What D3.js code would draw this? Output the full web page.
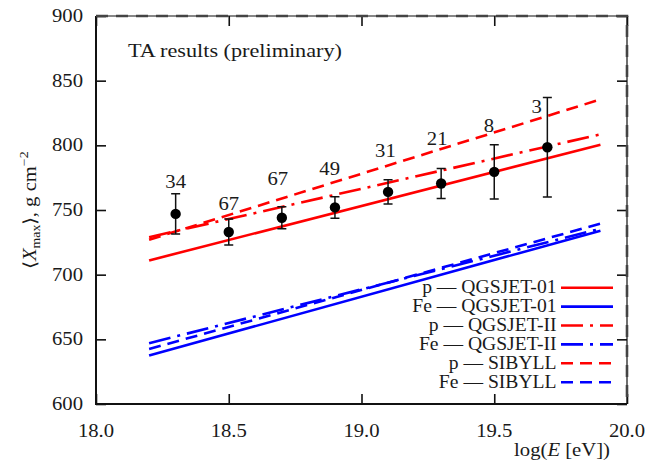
<!DOCTYPE html>
<html>
<head>
<meta charset="utf-8">
<script src="https://cdn.jsdelivr.net/npm/d3@7"></script>
<style>
  body { margin: 0; background: #fff; }
  svg text { fill: #1a1a1a; }
</style>
</head>
<body>
<div id="chart"></div>
<script>
// data
var energy = [18.3, 18.5, 18.7, 18.9, 19.1, 19.3, 19.5, 19.7];
var xmax   = [747, 733, 744, 752, 764, 770.5, 779.5, 798.5];
var xerr   = [15.5, 10, 8.5, 8.3, 9.4, 11.6, 21, 38.5];
var counts = [34, 67, 67, 49, 31, 21, 8, 3];
var countX = [18.3, 18.5, 18.685, 18.88, 19.09, 19.285, 19.48, 19.66];
var countY = [767, 750, 769, 777, 791, 800, 810, 825];

var modelX  = [18.2, 19.9];
var pQ01    = [711, 800.5];
var feQ01   = [637.5, 734];
var pQII    = [729, 808.5];
var feQII   = [647, 735.5];
var pSIB    = [727, 835.5];
var feSIB   = [642.5, 739.5];

var xTicks = [18.0, 18.5, 19.0, 19.5, 20.0];
var yTicks = [600, 650, 700, 750, 800, 850, 900];

var models = [
  {name: "p \u2014 QGSJET-01",  vals: pQ01,  color: "#ff0000", dash: null},
  {name: "Fe \u2014 QGSJET-01", vals: feQ01, color: "#0000ff", dash: null},
  {name: "p \u2014 QGSJET-II",  vals: pQII,  color: "#ff0000", dash: "22,7,3,7"},
  {name: "Fe \u2014 QGSJET-II", vals: feQII, color: "#0000ff", dash: "22,7,3,7"},
  {name: "p \u2014 SIBYLL",     vals: pSIB,  color: "#ff0000", dash: "12,7"},
  {name: "Fe \u2014 SIBYLL",    vals: feSIB, color: "#0000ff", dash: "12,7"}
];

// layout
var W = 661, H = 463;
var m = {top: 16, right: 34, bottom: 59, left: 96};
var w = W - m.left - m.right, h = H - m.top - m.bottom;
var FONT = "'Liberation Serif', 'Times New Roman', serif";

var svg = d3.select("#chart").append("svg")
    .attr("width", W)
    .attr("height", H)
    .style("font-family", FONT);

var g = svg.append("g")
    .attr("transform", "translate(" + m.left + "," + m.top + ")");

var x = d3.scaleLinear().domain([18, 20]).range([0, w]);
var y = d3.scaleLinear().domain([600, 900]).range([h, 0]);

// glyphs in the picture are a little stretched sideways, hence the scale
var label = function (parent, tx, ty, str, anchor, sx, fs) {
  return parent.append("text")
    .attr("transform", "translate(" + tx + "," + ty + ") scale(" + (sx || 1.15) + ",1)")
    .attr("text-anchor", anchor || "middle")
    .style("font-family", FONT)
    .attr("font-size", fs || 18)
    .text(str);
};

// inward ticks on all four sides
var tickStyle = function (sel) {
  sel.select(".domain").remove();
  sel.selectAll("line").attr("stroke", "#111").attr("stroke-width", 1.6);
  sel.selectAll("text").remove();
};
g.append("g").attr("transform", "translate(0," + h + ")")
  .call(d3.axisBottom(x).tickValues(xTicks).tickSize(-10)).call(tickStyle);
g.append("g")
  .call(d3.axisTop(x).tickValues(xTicks).tickSize(-10)).call(tickStyle);
g.append("g")
  .call(d3.axisLeft(y).tickValues(yTicks).tickSize(-10)).call(tickStyle);
g.append("g").attr("transform", "translate(" + w + ",0)")
  .call(d3.axisRight(y).tickValues(yTicks).tickSize(-10)).call(tickStyle);

// frame: left/bottom solid, top/right with the dashed overlay seen in the picture
g.append("path")
  .attr("d", "M0,0V" + h + "H" + w)
  .attr("fill", "none").attr("stroke", "#111").attr("stroke-width", 2);
g.append("path")
  .attr("d", "M0,0H" + w + "V" + h)
  .attr("fill", "none").attr("stroke", "#111").attr("stroke-width", 1.2);
g.append("path")
  .attr("d", "M0,0H" + w + "V" + h)
  .attr("fill", "none").attr("stroke", "#444").attr("stroke-width", 2.6)
  .attr("stroke-dasharray", "12,8");

// tick labels
xTicks.forEach(function (t) {
  label(g, x(t), h + 33, d3.format(".1f")(t));
});
yTicks.forEach(function (t) {
  label(g, -13, y(t) + 6, t, "end");
});

// axis titles
var yl = svg.append("text")
  .attr("transform", "translate(36,210) rotate(-90) scale(1.15,1)")
  .attr("text-anchor", "middle")
  .style("font-family", FONT)
  .attr("font-size", 18);
yl.append("tspan").text("\u27E8");
yl.append("tspan").attr("font-style", "italic").text("X");
yl.append("tspan").attr("font-size", 12).attr("dy", 4).text("max");
yl.append("tspan").attr("dy", -4).text("\u27E9, g cm");
yl.append("tspan").attr("font-size", 12).attr("dy", -8).text("\u22122");

var xl = svg.append("text")
  .attr("transform", "translate(610,456) scale(1.15,1)")
  .attr("text-anchor", "end")
  .style("font-family", FONT)
  .attr("font-size", 18);
xl.append("tspan").text("log(");
xl.append("tspan").attr("font-style", "italic").text("E");
xl.append("tspan").text(" [eV])");

label(g, 32, 41, "TA results (preliminary)", "start", 1.2, 18.5);

// model lines
var line = d3.line()
  .x(function (d) { return x(d[0]); })
  .y(function (d) { return y(d[1]); });

models.forEach(function (md) {
  g.append("path")
    .datum(d3.zip(modelX, md.vals))
    .attr("d", line)
    .attr("fill", "none")
    .attr("stroke", md.color)
    .attr("stroke-width", 2.6)
    .attr("stroke-dasharray", md.dash);
});

// TA points with error bars
var pts = g.selectAll(".pt")
  .data(d3.range(energy.length))
  .enter().append("g")
    .attr("class", "pt");

pts.append("path")
  .attr("d", function (i) {
    var cx = x(energy[i]), t = y(xmax[i] + xerr[i]), b = y(xmax[i] - xerr[i]);
    return "M" + cx + "," + t + "V" + b +
      "M" + (cx - 4.5) + "," + t + "H" + (cx + 4.5) +
      "M" + (cx - 4.5) + "," + b + "H" + (cx + 4.5);
  })
  .attr("stroke", "#111")
  .attr("stroke-width", 1.5)
  .attr("fill", "none");

pts.append("circle")
  .attr("cx", function (i) { return x(energy[i]); })
  .attr("cy", function (i) { return y(xmax[i]); })
  .attr("r", 5.2)
  .attr("fill", "#000");

counts.forEach(function (c, i) {
  label(g, x(countX[i]), y(countY[i]), c);
});

// legend
var lg = svg.append("g");
models.forEach(function (md, i) {
  var ly = 287.7 + i * 18.9;
  label(lg, 556.5, ly + 5.7, md.name, "end", 1.09);
  lg.append("line")
    .attr("x1", 561).attr("x2", 613)
    .attr("y1", ly).attr("y2", ly)
    .attr("stroke", md.color)
    .attr("stroke-width", 2.6)
    .attr("stroke-dasharray", md.dash);
});
</script>
</body>
</html>
